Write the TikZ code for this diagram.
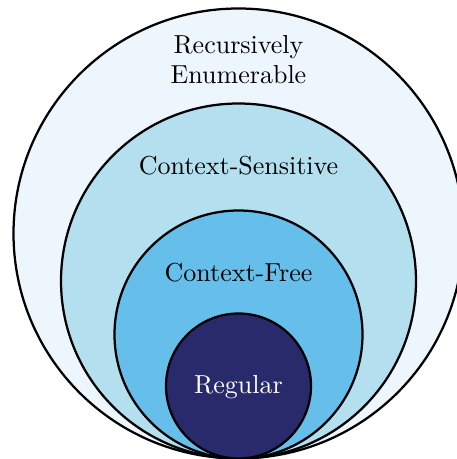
\documentclass[tikz,border=0pt]{standalone}
\usetikzlibrary{shapes.geometric}
\definecolor{reCol}{RGB}{238,246,253}
\definecolor{csCol}{RGB}{179,223,238}
\definecolor{cfCol}{RGB}{102,190,234}
\definecolor{rgCol}{RGB}{40,42,108}
\begin{document}
\begin{tikzpicture}[x=0.4pt,y=-0.4pt,
  ring/.style={circle,draw=black,line width=0.9pt,inner sep=0pt,outer sep=0pt},
  lab/.style={align=center,font=\fontsize{10.4}{12}\selectfont}]
\useasboundingbox (0,0) rectangle (456,459);
\node[ring,fill=reCol,minimum size=180pt] (re) at (238.5,233.5) {};
\node[ring,fill=csCol,minimum size=142pt] (cs) at (238.5,281) {};
\node[ring,fill=cfCol,minimum size=99.2pt] (cf) at (238.5,334.5) {};
\node[ring,fill=rgCol,minimum size=58pt] (rg) at (238.5,386) {};
\node[lab] (reL) at (238.5,60) {Recursively\\Enumerable};
\node[lab] (csL) at (238.5,166) {Context-Sensitive};
\node[lab] (cfL) at (238.5,273) {Context-Free};
\node[lab,text=white] (rgL) at (238.5,387) {Regular};
\end{tikzpicture}
\end{document}
